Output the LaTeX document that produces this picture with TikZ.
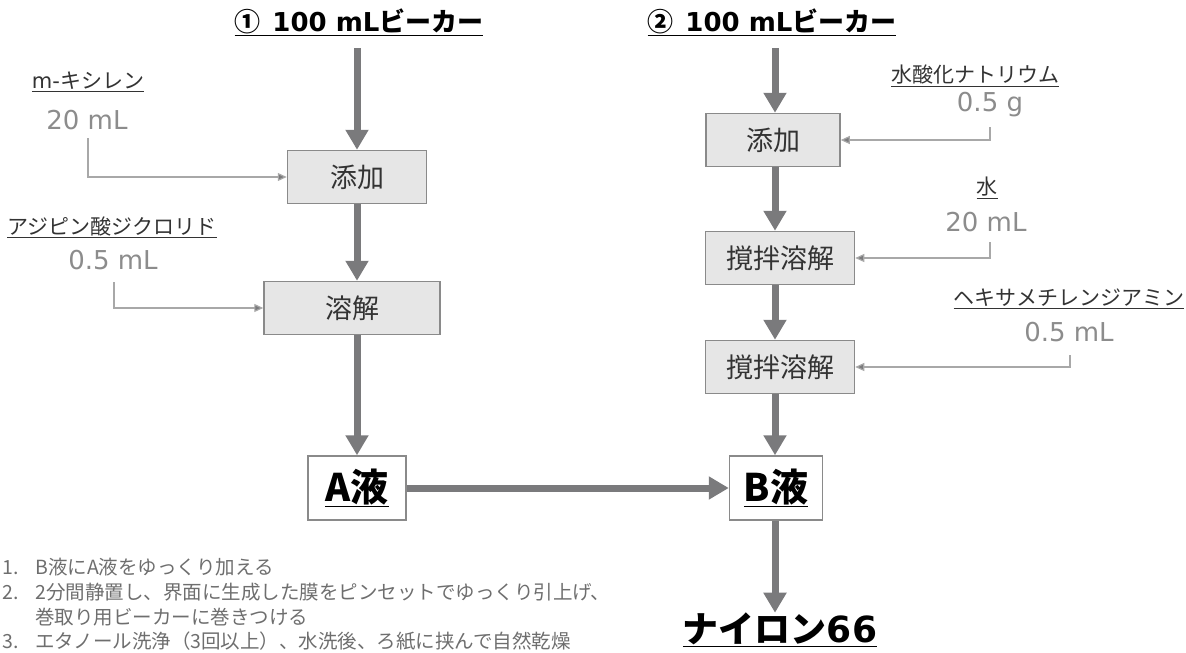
\documentclass[tikz,border=0pt]{standalone}
\usepackage{fontspec}
\setmainfont{Noto Sans CJK JP}
\newfontfamily\dv{DejaVu Sans}
\usetikzlibrary{arrows.meta}
\definecolor{arr}{HTML}{7A7A7C}
\definecolor{thin}{HTML}{A8A8A8}
\definecolor{boxfill}{HTML}{E6E6E6}
\definecolor{boxline}{HTML}{8A8A8A}
\definecolor{qty}{HTML}{8C8C8C}
\definecolor{txt}{HTML}{333333}
\definecolor{lst}{HTML}{6E6E6E}
\tikzset{
  mainarrow/.style={draw=arr,line width=7pt,-{Triangle[width=22pt,length=20pt]}},
  feed/.style={draw=thin,line width=1.2pt,-{Triangle[width=8pt,length=9pt,fill=arr]}},
  procbox/.style={draw=boxline,line width=1.5pt,fill=boxfill,minimum height=53pt,font=\fontsize{27}{30}\selectfont,text=txt,inner sep=0pt},
  liqbox/.style={draw=boxline,line width=1.5pt,fill=white,minimum height=64pt,font=\fontsize{38}{40}\selectfont\bfseries,inner sep=0pt},
  title/.style={font=\fontsize{26}{30}\selectfont\bfseries,inner sep=0pt},
  chem/.style={font=\fontsize{21}{24}\selectfont,text=txt,inner sep=0pt},
  amount/.style={font=\dv\fontsize{26}{28}\selectfont,text=qty,inner sep=0pt},
  listtxt/.style={font=\fontsize{19.5}{22}\selectfont,text=lst,inner sep=0pt,anchor=west},
}
\begin{document}
\begin{tikzpicture}[x=1pt,y=-1pt]
\useasboundingbox (0,0) rectangle (1186,653);
% titles
\node[title] (t1) at (359,22) {\underline{①\ \ {\dv 100 mL}ビーカー}};
\node[title] (t2) at (772,22) {\underline{②\ \ {\dv 100 mL}ビーカー}};
% left column
\node[procbox,minimum width=139pt] (add1) at (357,177) {添加};
\node[procbox,minimum width=176pt] (dis1) at (352,308) {溶解};
\node[liqbox,minimum width=98pt] (A) at (357,488) {\underline{A液}};
% right column
\node[procbox,minimum width=134pt] (add2) at (773,140) {添加};
\node[procbox,minimum width=149pt] (mix1) at (780,258) {撹拌溶解};
\node[procbox,minimum width=149pt] (mix2) at (780,367) {撹拌溶解};
\node[liqbox,minimum width=93pt] (B) at (776,488) {\underline{B液}};
\node[font=\fontsize{36}{38}\selectfont\bfseries,inner sep=0pt] (ny) at (780,630) {\underline{ナイロン{\dv 66}}};
% main arrows
\coordinate (s1) at (357,48);
\coordinate (s2) at (775,48);
\draw[mainarrow] (s1) -- (add1.north);
\draw[mainarrow] (add1.south) -- (add1.south |- dis1.north);
\draw[mainarrow] (dis1.south -| A.north) -- (A.north);
\draw[mainarrow] (s2) -- (s2 |- add2.north);
\draw[mainarrow] (s2 |- add2.south) -- (s2 |- mix1.north);
\draw[mainarrow] (s2 |- mix1.south) -- (s2 |- mix2.north);
\draw[mainarrow] (s2 |- mix2.south) -- (s2 |- B.north);
\draw[mainarrow] (A.east) -- (B.west);
\draw[mainarrow] (s2 |- B.south) -- (s2 |- ny.north);
% left feeds
\node[chem] (c1) at (88,82) {\underline{{\dv m-}キシレン}};
\node[amount] (q1) at (87,120) {20 mL};
\node[chem] (c2) at (112,227) {\underline{アジピン酸ジクロリド}};
\node[amount] (q2) at (113,260) {0.5 mL};
\draw[feed] (88,138) |- (add1.west);
\draw[feed] (114,282) |- (dis1.west);
% right feeds
\node[chem] (c3) at (975,76) {\underline{水酸化ナトリウム}};
\node[amount] (q3) at (990,105) {0.5 g};
\node[chem] (c4) at (987,188) {\underline{水}};
\node[amount] (q4) at (986,222) {20 mL};
\node[chem] (c5) at (1069,299) {\underline{ヘキサメチレンジアミン}};
\node[amount] (q5) at (1069,332) {0.5 mL};
\draw[feed] (990,127) |- (add2.east);
\draw[feed] (990,242) |- (mix1.east);
\draw[feed] (1070,355) |- (mix2.east);
% notes
\node[listtxt] (n1) at (2,567) {\makebox[33pt][l]{1.}B液にA液をゆっくり加える};
\node[listtxt] (n2) at (2,592) {\makebox[33pt][l]{2.}2分間静置し、界面に生成した膜をピンセットでゆっくり引上げ、};
\node[listtxt] (n2b) at (35,617) {巻取り用ビーカーに巻きつける};
\node[listtxt] (n3) at (2,641) {\makebox[33pt][l]{3.}エタノール洗浄（3回以上）、水洗後、ろ紙に挟んで自然乾燥};
\end{tikzpicture}
\end{document}
